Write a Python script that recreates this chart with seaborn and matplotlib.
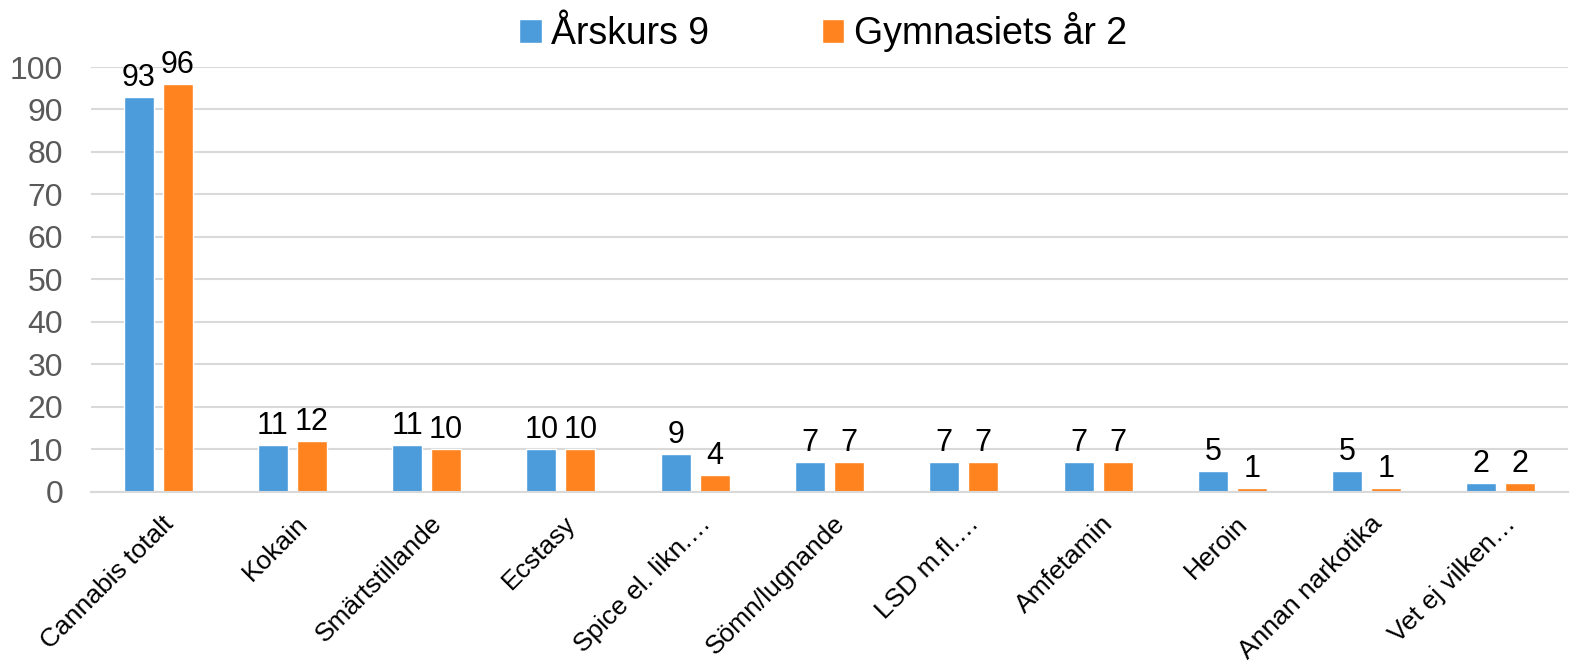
import matplotlib.pyplot as plt
import matplotlib.transforms as mtransforms
from matplotlib.patches import Patch
import seaborn as sns
import pandas as pd

# Data
categories = ['Cannabis totalt', 'Kokain', 'Smärtstillande', 'Ecstasy', 'Spice el. likn.…',
              'Sömn/lugnande', 'LSD m.fl.…', 'Amfetamin', 'Heroin', 'Annan narkotika',
              'Vet ej vilken…']
arskurs9 = [93, 11, 11, 10, 9, 7, 7, 7, 5, 5, 2]
gymnasiet2 = [96, 12, 10, 10, 4, 7, 7, 7, 1, 1, 2]
series_names = ['Årskurs 9', 'Gymnasiets år 2']
colors = ['#4C9CDC', '#FF831F']

df = pd.DataFrame({'Kategori': categories, series_names[0]: arskurs9, series_names[1]: gymnasiet2})
long = df.melt(id_vars='Kategori', var_name='Grupp', value_name='Andel')

sns.set_theme(style='white')
plt.rcParams['font.family'] = ['Liberation Sans', 'DejaVu Sans']

fig = plt.figure(figsize=(15.8, 6.68), dpi=100)
ax = fig.add_axes([0.0576, 0.2635, 0.9348, 0.6362])

sns.barplot(data=long, x='Kategori', y='Andel', hue='Grupp', palette=colors,
            width=0.58, gap=0.23, saturation=1, ax=ax, legend=False)

for container in ax.containers:
    ax.bar_label(container, fmt='%d', padding=3, fontsize=22, color='black')

ax.set_ylim(0, 100)
ax.set_xlim(-0.5, len(categories) - 0.5)
ax.set_yticks(range(0, 101, 10))
ax.yaxis.grid(True, color='#d9d9d9', linewidth=1.5)
ax.set_axisbelow(True)
for s in ['top', 'right', 'left']:
    ax.spines[s].set_visible(False)
ax.spines['bottom'].set_color('#d9d9d9')
ax.spines['bottom'].set_linewidth(1.5)
ax.set_xlabel('')
ax.set_ylabel('')
ax.tick_params(axis='y', labelsize=23, labelcolor='#595959', length=0, pad=20)
ax.tick_params(axis='x', labelsize=19, labelcolor='black', length=0, pad=14)

offset = mtransforms.ScaledTranslation(0.03, 0, fig.dpi_scale_trans)
for lbl in ax.get_xticklabels():
    lbl.set_rotation(45)
    lbl.set_ha('right')
    lbl.set_rotation_mode('anchor')
    lbl.set_transform(lbl.get_transform() + offset)

handles = [Patch(facecolor=c, label=n) for c, n in zip(colors, series_names)]
fig.legend(handles=handles, loc='center', bbox_to_anchor=(0.521, 0.952), ncol=2, frameon=False,
           fontsize=27, labelcolor='black', handlelength=0.6, handleheight=0.6,
           handletextpad=0.25, columnspacing=3.0)

fig.savefig('out.png', dpi=100)
